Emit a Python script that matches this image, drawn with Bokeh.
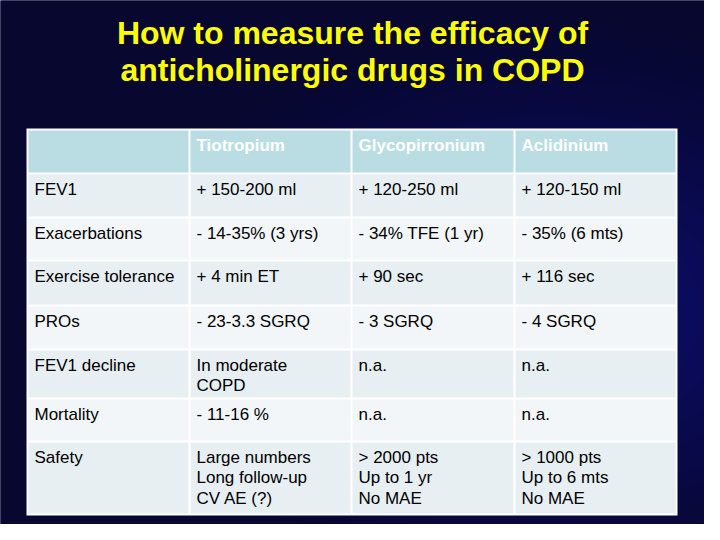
import numpy as np
from bokeh.plotting import figure
from bokeh.models import Range1d
from bokeh.core.properties import value
from bokeh.embed import file_html
from bokeh.resources import INLINE

# ---------------- data ----------------
title_text = "How to measure the efficacy of\nanticholinergic drugs in COPD"
drugs = ["Tiotropium", "Glycopirronium", "Aclidinium"]
outcomes = ["FEV1", "Exacerbations", "Exercise tolerance", "PROs",
            "FEV1 decline", "Mortality", "Safety"]
tiotropium = ["+ 150-200 ml", "- 14-35% (3 yrs)", "+ 4 min ET", "- 23-3.3 SGRQ",
              "In moderate\nCOPD", "- 11-16 %", "Large numbers\nLong follow-up\nCV AE (?)"]
glycopirronium = ["+ 120-250 ml", "- 34% TFE (1 yr)", "+ 90 sec", "- 3 SGRQ",
                  "n.a.", "n.a.", "> 2000  pts\nUp to 1 yr\nNo MAE"]
aclidinium = ["+ 120-150 ml", "- 35% (6 mts)", "+ 116 sec", "- 4 SGRQ",
              "n.a.", "n.a.", "> 1000 pts\nUp to 6 mts\nNo MAE"]

# ---------------- layout (reference pixel space, y downward) ----------------
W, H = 720, 540
col_edges = [35, 197, 359, 522, 684]
row_edges = [137, 181, 225, 268, 313, 357, 406, 449, 522]
FONT = value("Liberation Sans")

def Y(y):
    return H - y

p = figure(width=704, height=524, x_range=Range1d(8, 712), y_range=Range1d(8, 532),
           toolbar_location=None, output_backend="svg", min_border=0,
           x_axis_location=None, y_axis_location=None)
p.grid.visible = False
p.outline_line_color = None
p.background_fill_color = "#0a0a40"
p.border_fill_color = "#0a0a40"

# background gradient
xs = np.arange(W) + 0.5
ys = H - (np.arange(H) + 0.5)
XX, YY = np.meshgrid(xs, ys)
d = np.sqrt(((XX - 560) / 430.0) ** 2 + ((YY - 320) / 300.0) ** 2)
f = np.clip(1 - d, 0, 1) ** 1.3
c0 = np.array([7, 7, 48])
c1 = np.array([14, 14, 122])
r = (c0[0] + (c1[0] - c0[0]) * f).astype(np.uint32)
g = (c0[1] + (c1[1] - c0[1]) * f).astype(np.uint32)
b = (c0[2] + (c1[2] - c0[2]) * f).astype(np.uint32)
img = (255 << 24) | (b << 16) | (g << 8) | r
p.image_rgba(image=[img.astype(np.uint32)], x=0, y=0, dw=W, dh=H)

# title
p.text(x=[360], y=[Y(22)], text=[title_text], text_font=FONT, text_font_size="32px",
       text_font_style="bold", text_color="#ffff00", text_align="center",
       text_baseline="top", text_line_height=1.05)

# table frame
p.quad(left=[col_edges[0] - 1], right=[col_edges[-1] + 1],
       top=[Y(row_edges[0] - 1)], bottom=[Y(row_edges[-1] + 1)],
       fill_color="white", line_color=None)

header = [""] + drugs
columns = [outcomes, tiotropium, glycopirronium, aclidinium]
n_rows = len(outcomes)

L, R, T, B, C = [], [], [], [], []
for ri in range(n_rows + 1):
    if ri == 0:
        color = "#b9dde2"
    elif ri % 2 == 1:
        color = "#e7eff3"
    else:
        color = "#f2f6f8"
    for ci in range(4):
        L.append(col_edges[ci] + 1)
        R.append(col_edges[ci + 1] - 1)
        T.append(Y(row_edges[ri] + 1))
        B.append(Y(row_edges[ri + 1] - 1))
        C.append(color)
p.quad(left=L, right=R, top=T, bottom=B, fill_color=C, line_color=None)

# header text
hx = [col_edges[ci] + 7 for ci in range(1, 4)]
hy = [Y(row_edges[0] + 6)] * 3
p.text(x=hx, y=hy, text=drugs, text_font=FONT, text_font_size="17px",
       text_font_style="bold", text_color="white", text_baseline="top")

# body text
tx, ty, tt = [], [], []
for ci, col in enumerate(columns):
    for ri, t in enumerate(col):
        tx.append(col_edges[ci] + 7)
        ty.append(Y(row_edges[ri + 1] + 6))
        tt.append(t)
p.text(x=tx, y=ty, text=tt, text_font=FONT, text_font_size="17px",
       text_color="black", text_baseline="top", text_line_height=1.1)

open("out.html", "w").write(file_html(p, INLINE))
